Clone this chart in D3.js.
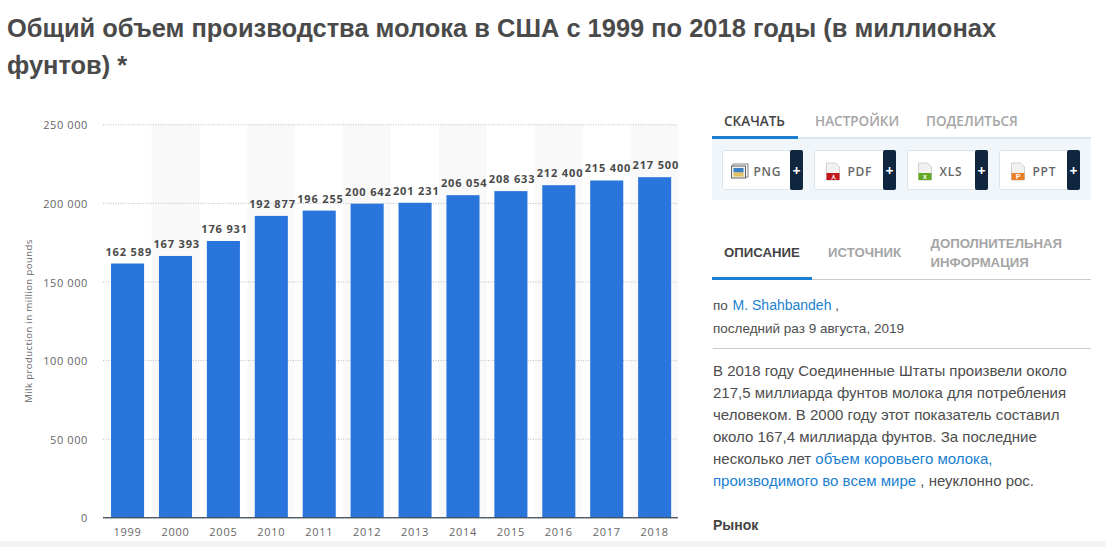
<!DOCTYPE html>
<html lang="ru"><head><meta charset="utf-8">
<script src="https://cdn.jsdelivr.net/npm/d3@7/dist/d3.min.js"></script>
<style>
html,body{margin:0;padding:0;background:#fff;overflow:hidden}
svg{display:block}
</style></head><body>
<svg id="c" width="1106" height="547"></svg>
<script>
const categories=["1999","2000","2005","2010","2011","2012","2013","2014","2015","2016","2017","2018"];
const values=[162589,167393,176931,192877,196255,200642,201231,206054,208633,212400,215400,217500];
const yTicks=[0,50000,100000,150000,200000,250000];
const titleLines=["Общий объем производства молока в США с 1999 по 2018 годы (в миллионах","фунтов) *"];
const yLabel="Milk production in million pounds";
const tabs1=["СКАЧАТЬ","НАСТРОЙКИ","ПОДЕЛИТЬСЯ"];
const formats=["PNG","PDF","XLS","PPT"];
const formatColors=["#3b7fc4","#c0161c","#63a822","#e8802a"];
const paragraph=[
 [["В 2018 году Соединенные Штаты произвели около",0]],
 [["217,5 миллиарда фунтов молока для потребления",0]],
 [["человеком. В 2000 году этот показатель составил",0]],
 [["около 167,4 миллиарда фунтов. За последние",0]],
 [["несколько лет ",0],["объем коровьего молока,",1]],
 [["производимого во всем мире",1],[" , неуклонно рос.",0]]
];
const fmt=v=>d3.format(",")(v).replace(/,/g," ");
const svg=d3.select("#c");
const OS="'Open Sans',sans-serif", AR="'Liberation Sans',Arial,sans-serif";
const m={l:103,r:678,t:124.3,b:517.3};
const barDrop=1.8;
const x=d3.scaleBand().domain(categories).range([m.l+0.6,m.r+0.6]).paddingInner(0.31).paddingOuter(0.155);
const y=d3.scaleLinear().domain([0,250000]).range([m.b,m.t]);
const step=x.step();

// title
svg.append("g").selectAll("text").data(titleLines).join("text")
 .attr("x",7).attr("y",(d,i)=>36.5+i*37).text(d=>d)
 .attr("font-family",AR).attr("font-weight",700).attr("font-size",25.45).attr("fill","#4a4a4a");

// stripes
svg.append("g").selectAll("rect").data(categories.filter((d,i)=>i%2===1)).join("rect")
 .attr("x",d=>x(d)+x.bandwidth()/2-step/2).attr("width",step)
 .attr("y",m.t).attr("height",m.b-m.t).attr("fill","#f9f9fa");

// grid
const yAxis=svg.append("g").attr("transform",`translate(${m.l},0)`)
 .call(d3.axisLeft(y).tickValues(yTicks).tickFormat(fmt).tickSize(-(m.r-m.l)).tickPadding(15));
yAxis.select(".domain").remove();
yAxis.selectAll(".tick line").attr("stroke","#bdbdbd").attr("stroke-dasharray","1 1.5").attr("stroke-width",1);
yAxis.selectAll(".tick text").attr("font-family",OS).attr("font-size",11).attr("fill","#666").attr("letter-spacing",0.6).attr("y",1);

// bars
svg.append("g").selectAll("rect").data(values).join("rect")
 .attr("x",(d,i)=>x(categories[i])).attr("width",x.bandwidth())
 .attr("y",d=>y(d)+barDrop).attr("height",d=>y(0)-y(d)-barDrop).attr("fill","#2a75dc");

// baseline + x labels
const xAxis=svg.append("g").attr("transform",`translate(0,${m.b})`)
 .call(d3.axisBottom(x).tickSize(0).tickPadding(11));
xAxis.select(".domain").attr("stroke","#10202f").attr("stroke-width",1).attr("d",`M${m.l},0.5H${m.r}`);
xAxis.selectAll(".tick text").attr("font-family",OS).attr("font-size",11).attr("fill","#666").attr("letter-spacing",0.75);

// value labels
svg.append("g").selectAll("text").data(values).join("text")
 .attr("x",(d,i)=>x(categories[i])+x.bandwidth()/2+1.2).attr("y",d=>y(d)-6.2)
 .attr("text-anchor","middle").text(fmt)
 .attr("font-family",OS).attr("font-weight",700).attr("font-size",11).attr("fill","#4a4a4a").attr("letter-spacing",0.85);

// y title
svg.append("text").attr("transform","translate(32,321) rotate(-90)").attr("text-anchor","middle")
 .text(yLabel).attr("font-family",OS).attr("font-size",9.6).attr("fill","#666").attr("letter-spacing",0.4);

// --- side panel ---
const tab1x=[724,815,926];
svg.append("g").selectAll("text").data(tabs1).join("text")
 .attr("x",(d,i)=>tab1x[i]).attr("y",126).text(d=>d)
 .attr("font-family",OS).attr("font-weight",600).attr("font-size",13.5)
 .attr("fill",(d,i)=>i?"#a5a5a5":"#444");
svg.append("rect").attr("x",712).attr("y",137).attr("width",379).attr("height",63).attr("fill","#f1f6fb");
svg.append("rect").attr("x",712).attr("y",137.5).attr("width",379).attr("height",1).attr("fill","#ccd3da");
svg.append("rect").attr("x",712).attr("y",136).attr("width",86).attr("height",3).attr("fill","#1b7fd1");

const btnX=[722,814,907,999], btnW=[81,82,81,81], labelX=[31,33,32,33];
const btn=svg.append("g").selectAll("g").data(formats).join("g").attr("transform",(d,i)=>`translate(${btnX[i]+0.5},150.5)`);
btn.append("rect").attr("width",(d,i)=>btnW[i]-1).attr("height",39).attr("rx",2.5).attr("fill","#fff").attr("stroke","#dfe4ea");
btn.append("rect").attr("x",(d,i)=>btnW[i]-13.5).attr("y",-0.5).attr("width",13).attr("height",40).attr("rx",2).attr("fill","#10263f");
btn.append("text").attr("x",(d,i)=>btnW[i]-7).attr("y",25).attr("text-anchor","middle").text("+")
 .attr("font-family",OS).attr("font-weight",700).attr("font-size",14).attr("fill","#fff");
btn.append("text").attr("x",(d,i)=>labelX[i]).attr("y",25.5).text(d=>d)
 .attr("font-family",OS).attr("font-weight",600).attr("font-size",12).attr("fill","#666").attr("letter-spacing",0.7);

// file icons
const png=btn.filter((d,i)=>i===0);
png.append("rect").attr("x",10.5).attr("y",13.5).attr("width",15).attr("height",13).attr("fill","#f4f4f4").attr("stroke","#888");
png.append("rect").attr("x",9).attr("y",15.5).attr("width",14).attr("height",12).attr("fill","#eee").attr("stroke","#666");
png.append("rect").attr("x",11).attr("y",17.5).attr("width",10).attr("height",4.5).attr("fill",formatColors[0]);
png.append("rect").attr("x",11).attr("y",22).attr("width",10).attr("height",4).attr("fill","#e3c25f");
const doc=btn.filter((d,i)=>i>0);
const docX=[12,11,12];
doc.append("path").attr("d",(d,i)=>`M${docX[i]},12.5h9l4,4v13h-13z`).attr("fill","#f1f1f1").attr("stroke","#d0d0d0");
doc.append("rect").attr("x",(d,i)=>docX[i]).attr("y",22.5).attr("width",13).attr("height",7).attr("fill",(d,i)=>formatColors[i+1]);
doc.append("text").attr("x",(d,i)=>docX[i]+6.5).attr("y",28.5).attr("text-anchor","middle")
 .text(d=>d==="PDF"?"⋏":d==="XLS"?"x":"P").attr("font-family",AR).attr("font-size",7).attr("font-weight",700).attr("fill","#fff");

// description tabs
svg.append("rect").attr("x",712).attr("y",279).attr("width",379).attr("height",1).attr("fill","#ccc");
svg.append("rect").attr("x",712).attr("y",277).attr("width",100).attr("height",3).attr("fill","#1b7fd1");
const tt=[["ОПИСАНИЕ",724,257,"#444"],["ИСТОЧНИК",828,257,"#a5a5a5"],["ДОПОЛНИТЕЛЬНАЯ",930.5,248,"#a5a5a5"],["ИНФОРМАЦИЯ",930.5,267,"#a5a5a5"]];
svg.append("g").selectAll("text").data(tt).join("text")
 .attr("x",d=>d[1]).attr("y",d=>d[2]).text(d=>d[0])
 .attr("font-family",AR).attr("font-weight",700).attr("font-size",13.2).attr("fill",d=>d[3]);

const by=svg.append("text").attr("x",713).attr("y",310).attr("font-family",AR).attr("font-size",13.5).attr("fill","#4d4d4d");
by.append("tspan").text("по ");
by.append("tspan").text("M. Shahbandeh").attr("fill","#1b7fd1").attr("font-size",14).attr("dx",1);
by.append("tspan").text(" ,");
svg.append("text").attr("x",713).attr("y",333).text("последний раз 9 августа, 2019")
 .attr("font-family",AR).attr("font-size",13.5).attr("fill","#4d4d4d");
svg.append("rect").attr("x",713).attr("y",348).attr("width",378).attr("height",1).attr("fill","#ccc");

const para=svg.append("g").selectAll("text").data(paragraph).join("text")
 .attr("x",713).attr("y",(d,i)=>376+i*22).attr("font-family",AR).attr("font-size",15).attr("fill","#4d4d4d");
para.selectAll("tspan").data(d=>d).join("tspan").text(d=>d[0]).attr("fill",d=>d[1]?"#1b7fd1":"#4d4d4d");

svg.append("text").attr("x",713).attr("y",530).text("Рынок")
 .attr("font-family",AR).attr("font-weight",700).attr("font-size",14).attr("fill","#444");

svg.append("rect").attr("x",0).attr("y",541).attr("width",1106).attr("height",6).attr("fill","#f3f3f3");
</script>
</body></html>
